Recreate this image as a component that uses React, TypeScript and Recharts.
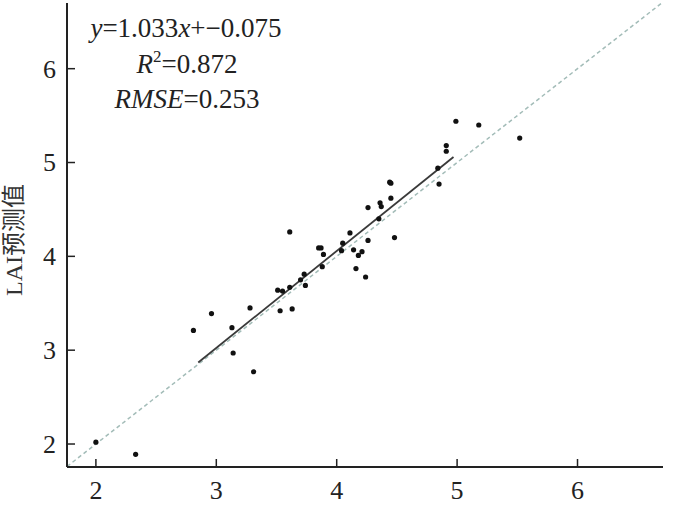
import { ScatterChart, Scatter, XAxis, YAxis, ReferenceLine } from 'recharts'

const measuredLAI = [
  2.0, 2.33, 2.81, 2.96, 3.13, 3.14, 3.28, 3.31, 3.51, 3.53, 3.55, 3.61, 3.61, 3.63, 3.7,
  3.73, 3.74, 3.85, 3.87, 3.88, 3.89, 4.04, 4.05, 4.11, 4.14, 4.16, 4.18, 4.21, 4.24, 4.26,
  4.26, 4.35, 4.36, 4.37, 4.44, 4.45, 4.45, 4.48, 4.84, 4.85, 4.91, 4.91, 4.99, 5.18, 5.52,
]
const predictedLAI = [
  2.02, 1.89, 3.21, 3.39, 3.24, 2.97, 3.45, 2.77, 3.64, 3.42, 3.63, 4.26, 3.67, 3.44, 3.75,
  3.81, 3.69, 4.09, 4.09, 3.89, 4.02, 4.06, 4.14, 4.25, 4.07, 3.87, 4.01, 4.05, 3.78, 4.17,
  4.52, 4.4, 4.57, 4.53, 4.79, 4.78, 4.62, 4.2, 4.94, 4.77, 5.18, 5.12, 5.44, 5.4, 5.26,
]
const ticks = [2, 3, 4, 5, 6]
const slope = 1.033
const intercept = -0.075
const fitRange = [2.85, 4.97]
const xDomain = [1.76, 6.71]
const yDomain = [1.755, 6.7]

const points = measuredLAI.map((x, i) => ({ x, y: predictedLAI[i] }))

const FONT = '"Liberation Serif", "Times New Roman", serif'
const INK = '#222'

function YTick(props: any) {
  const { x, y, payload } = props
  return (
    <g>
      <line x1={x} x2={x + 8} y1={y} y2={y} stroke={INK} strokeWidth={1.5} />
      <text x={x - 11} y={y} dy="0.34em" textAnchor="end" fontFamily={FONT} fontSize={26} fill={INK}>
        {payload.value}
      </text>
    </g>
  )
}

function XTick(props: any) {
  const { x, y, payload } = props
  return (
    <g>
      <line x1={x} x2={x} y1={y} y2={y - 8} stroke={INK} strokeWidth={1.5} />
      <text x={x} y={y + 32} textAnchor="middle" fontFamily={FONT} fontSize={26} fill={INK}>
        {payload.value}
      </text>
    </g>
  )
}

const Dot = (props: any) => <circle cx={props.cx} cy={props.cy} r={2.6} fill="#111" />

export default function App() {
  return (
    <div style={{ position: 'absolute', left: 0, top: 0, width: 690, height: 510, background: '#fff' }}>
      <ScatterChart width={690} height={510} margin={{ top: 3, right: 27, bottom: 0, left: 0 }}>
        <XAxis
          type="number"
          dataKey="x"
          domain={xDomain}
          ticks={ticks}
          allowDataOverflow
          height={43}
          tickSize={0}
          tickMargin={0}
          tickLine={false}
          tick={<XTick />}
          stroke={INK}
          strokeWidth={2}
        />
        <YAxis
          type="number"
          dataKey="y"
          domain={yDomain}
          ticks={ticks}
          allowDataOverflow
          width={67}
          tickSize={0}
          tickMargin={0}
          tickLine={false}
          tick={<YTick />}
          stroke={INK}
          strokeWidth={2}
        />
        {/* 1:1 line */}
        <ReferenceLine
          segment={[{ x: xDomain[0], y: xDomain[0] }, { x: yDomain[1], y: yDomain[1] }]}
          stroke="#a3bcb8"
          strokeWidth={1.5}
          strokeDasharray="4 3"
          ifOverflow="hidden"
        />
        {/* fitted line */}
        <ReferenceLine
          segment={[
            { x: fitRange[0], y: slope * fitRange[0] + intercept },
            { x: fitRange[1], y: slope * fitRange[1] + intercept },
          ]}
          stroke="#3a3a3a"
          strokeWidth={1.8}
          ifOverflow="hidden"
        />
        <Scatter data={points} shape={<Dot />} isAnimationActive={false} />
      </ScatterChart>
      <svg width={690} height={510} style={{ position: 'absolute', left: 0, top: 0, pointerEvents: 'none' }}>
        <g fontFamily={FONT} fontSize={27} fill={INK} textAnchor="middle">
          <text x={186} y={37}>
            <tspan fontStyle="italic">y</tspan>=1.033<tspan fontStyle="italic">x</tspan>+−0.075
          </text>
          <text x={187} y={73}>
            <tspan fontStyle="italic">R</tspan>
            <tspan fontSize={17} dy={-11}>2</tspan>
            <tspan dy={11}>=0.872</tspan>
          </text>
          <text x={187} y={108}>
            <tspan fontStyle="italic">RMSE</tspan>=0.253
          </text>
        </g>
        <text
          transform="translate(14,240) rotate(-90)"
          textAnchor="middle"
          dy="0.35em"
          fontFamily={'"Liberation Serif", "Noto Sans CJK SC", serif'}
          fontSize={24}
          fill="#333"
        >
          LAI预测值
        </text>
      </svg>
    </div>
  )
}
